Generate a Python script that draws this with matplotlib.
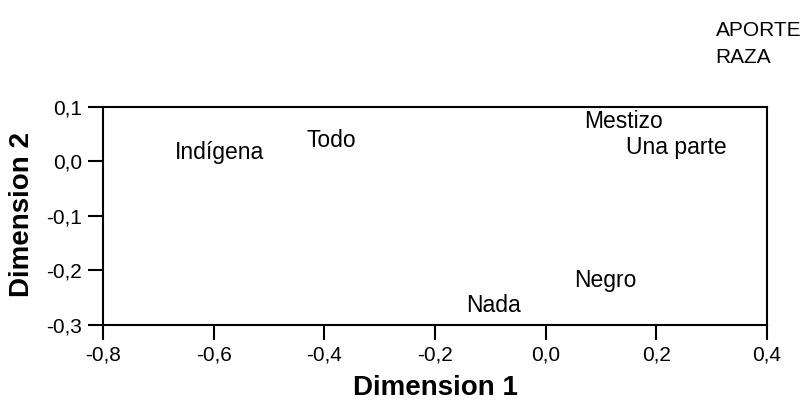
import matplotlib
matplotlib.use("Agg")
import matplotlib.pyplot as plt

plt.rcParams['font.family'] = ['Liberation Sans', 'DejaVu Sans']

# category labels and their coordinates (Dimension 1, Dimension 2)
labels = ["Indígena", "Todo", "Mestizo", "Una parte", "Negro", "Nada"]
dim1 = [-0.589, -0.388, 0.141, 0.237, 0.107, -0.095]
dim2 = [0.017, 0.038, 0.074, 0.025, -0.219, -0.265]

xticks = [-0.8, -0.6, -0.4, -0.2, 0.0, 0.2, 0.4]
yticks = [-0.3, -0.2, -0.1, 0.0, 0.1]
legend_items = ["APORTE", "RAZA"]

fig = plt.figure(figsize=(8.04, 4.04), dpi=100)
ax = fig.add_axes([0.128, 0.196, 0.826, 0.539])

for lab, x, y in zip(labels, dim1, dim2):
    ax.text(x, y, lab, ha='center', va='center', fontsize=16.5, color='black')

ax.set_xlim(-0.8, 0.4)
ax.set_ylim(-0.3, 0.1)
ax.set_xticks(xticks)
ax.set_yticks(yticks)
ax.set_xticklabels([f"{v:.1f}".replace('.', ',') for v in xticks])
ax.set_yticklabels([f"{v:.1f}".replace('.', ',') for v in yticks])
ax.tick_params(direction='out', length=11, width=1.5, labelsize=15, pad=4)
for s in ax.spines.values():
    s.set_linewidth(1.5)

fig.text(0.541, 0.04, "Dimension 1", ha='center', va='center',
         fontsize=20, fontweight='bold')
fig.text(0.027, 0.47, "Dimension 2", ha='center', va='center',
         fontsize=20, fontweight='bold', rotation=90)

for i, item in enumerate(legend_items):
    fig.text(0.89, 0.925 - i * 0.067, item, ha='left', va='center', fontsize=15)

fig.savefig("out.png", dpi=100)
